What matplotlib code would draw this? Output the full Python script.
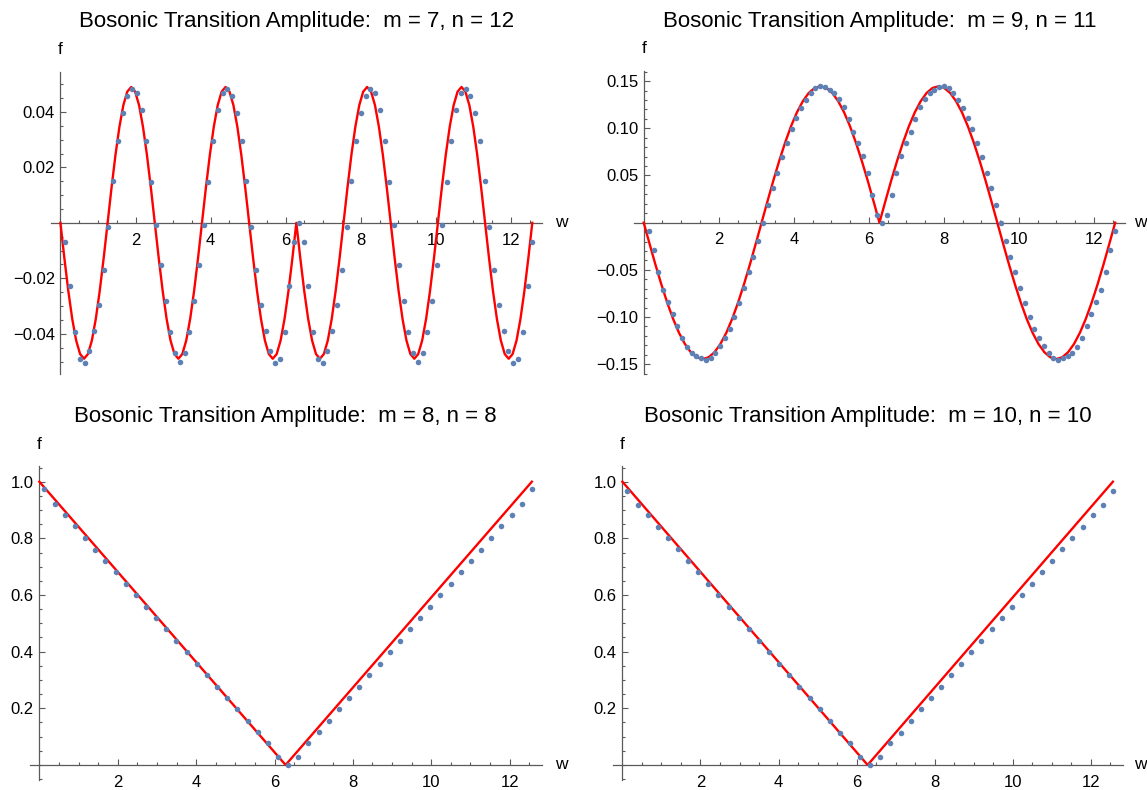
import matplotlib.pyplot as plt
import numpy as np
from matplotlib.ticker import FixedLocator, FormatStrFormatter, FuncFormatter

plt.rcParams['font.family'] = ['Liberation Sans', 'DejaVu Sans']

titles = ['Bosonic Transition Amplitude:  m = 7, n = 12',
          'Bosonic Transition Amplitude:  m = 9, n = 11',
          'Bosonic Transition Amplitude:  m = 8, n = 8',
          'Bosonic Transition Amplitude:  m = 10, n = 10']

# sample positions of the dots
dots_w_top = np.linspace(0.135, 12.566, 99)
dots_w_bottom = np.linspace(0.13, 12.566, 49)

# m = 7, n = 12
dots_f_7_12 = [
    -0.0068, -0.0228, -0.0393, -0.0492, -0.0505, -0.0461, -0.0389, -0.0296, -0.0171, -0.0014,
    0.0150, 0.0295, 0.0397, 0.0457, 0.0484, 0.0469, 0.0406, 0.0294, 0.0147, -0.0007,
    -0.0153, -0.0283, -0.0395, -0.0471, -0.0500, -0.0471, -0.0395, -0.0283, -0.0153, -0.0007,
    0.0147, 0.0294, 0.0406, 0.0469, 0.0484, 0.0457, 0.0397, 0.0295, 0.0150, -0.0014,
    -0.0171, -0.0296, -0.0389, -0.0461, -0.0505, -0.0492, -0.0393, -0.0228, -0.0068, 0.0000,
    -0.0068, -0.0228, -0.0393, -0.0492, -0.0505, -0.0461, -0.0389, -0.0296, -0.0171, -0.0014,
    0.0150, 0.0295, 0.0397, 0.0457, 0.0484, 0.0469, 0.0406, 0.0294, 0.0147, -0.0007,
    -0.0153, -0.0283, -0.0395, -0.0471, -0.0500, -0.0471, -0.0395, -0.0283, -0.0153, -0.0007,
    0.0147, 0.0294, 0.0406, 0.0469, 0.0484, 0.0457, 0.0397, 0.0295, 0.0150, -0.0014,
    -0.0171, -0.0296, -0.0389, -0.0461, -0.0505, -0.0492, -0.0393, -0.0228, -0.0068]

# m = 9, n = 11
dots_f_9_11 = [
    -0.0084, -0.0291, -0.0528, -0.0712, -0.0846, -0.0966, -0.1093, -0.1224, -0.1319, -0.1376,
    -0.1408, -0.1436, -0.1453, -0.1429, -0.1379, -0.1302, -0.1220, -0.1122, -0.1001, -0.0853,
    -0.0691, -0.0528, -0.0366, -0.0190, 0.0000, 0.0185, 0.0365, 0.0528, 0.0694, 0.0842,
    0.0997, 0.1113, 0.1213, 0.1301, 0.1375, 0.1428, 0.1449, 0.1435, 0.1410, 0.1372,
    0.1315, 0.1223, 0.1100, 0.0965, 0.0842, 0.0711, 0.0528, 0.0294, 0.0086, 0.0000,
    0.0086, 0.0294, 0.0528, 0.0711, 0.0842, 0.0965, 0.1100, 0.1223, 0.1315, 0.1372,
    0.1410, 0.1435, 0.1449, 0.1428, 0.1375, 0.1301, 0.1213, 0.1113, 0.0997, 0.0842,
    0.0694, 0.0528, 0.0365, 0.0185, 0.0000, -0.0190, -0.0366, -0.0528, -0.0691, -0.0853,
    -0.1001, -0.1122, -0.1220, -0.1302, -0.1379, -0.1429, -0.1453, -0.1436, -0.1408, -0.1376,
    -0.1319, -0.1224, -0.1093, -0.0966, -0.0846, -0.0712, -0.0528, -0.0291, -0.0084]

# m = 8, n = 8
dots_f_8_8 = [
    0.974, 0.920, 0.881, 0.845, 0.800, 0.760, 0.721, 0.680, 0.639, 0.600,
    0.559, 0.518, 0.479, 0.439, 0.398, 0.358, 0.319, 0.275, 0.238, 0.198,
    0.154, 0.116, 0.076, 0.028, 0.000, 0.028, 0.076, 0.116, 0.154, 0.198,
    0.238, 0.275, 0.319, 0.358, 0.398, 0.439, 0.479, 0.518, 0.559, 0.600,
    0.639, 0.680, 0.721, 0.760, 0.800, 0.845, 0.881, 0.920, 0.974]

# m = 10, n = 10
dots_f_10_10 = [
    0.968, 0.919, 0.882, 0.841, 0.800, 0.761, 0.719, 0.680, 0.638, 0.600,
    0.559, 0.518, 0.479, 0.438, 0.398, 0.358, 0.316, 0.276, 0.236, 0.196,
    0.155, 0.113, 0.076, 0.029, 0.000, 0.029, 0.076, 0.113, 0.155, 0.196,
    0.236, 0.276, 0.316, 0.358, 0.398, 0.438, 0.479, 0.518, 0.559, 0.600,
    0.638, 0.680, 0.719, 0.761, 0.800, 0.841, 0.882, 0.919, 0.968]

# red curves
curve_w_7_12 = np.linspace(0, 12.566, 121)
curve_f_7_12 = [
    0.0,
    -0.0127, -0.0245, -0.0346, -0.0424, -0.0473, -0.0490, -0.0473, -0.0424, -0.0346, -0.0245, -0.0127, 0.0,
    0.0127, 0.0245, 0.0346, 0.0424, 0.0473, 0.0490, 0.0473, 0.0424, 0.0346, 0.0245, 0.0127, 0.0,
    -0.0127, -0.0245, -0.0346, -0.0424, -0.0473, -0.0490, -0.0473, -0.0424, -0.0346, -0.0245, -0.0127, 0.0,
    0.0127, 0.0245, 0.0346, 0.0424, 0.0473, 0.0490, 0.0473, 0.0424, 0.0346, 0.0245, 0.0127, 0.0,
    -0.0127, -0.0245, -0.0346, -0.0424, -0.0473, -0.0490, -0.0473, -0.0424, -0.0346, -0.0245, -0.0127, 0.0,
    -0.0127, -0.0245, -0.0346, -0.0424, -0.0473, -0.0490, -0.0473, -0.0424, -0.0346, -0.0245, -0.0127, 0.0,
    0.0127, 0.0245, 0.0346, 0.0424, 0.0473, 0.0490, 0.0473, 0.0424, 0.0346, 0.0245, 0.0127, 0.0,
    -0.0127, -0.0245, -0.0346, -0.0424, -0.0473, -0.0490, -0.0473, -0.0424, -0.0346, -0.0245, -0.0127, 0.0,
    0.0127, 0.0245, 0.0346, 0.0424, 0.0473, 0.0490, 0.0473, 0.0424, 0.0346, 0.0245, 0.0127, 0.0,
    -0.0127, -0.0245, -0.0346, -0.0424, -0.0473, -0.0490, -0.0473, -0.0424, -0.0346, -0.0245, -0.0127, 0.0]

curve_w_9_11 = np.linspace(0, 12.566, 81)
curve_f_9_11 = [
    0.0,
    -0.0226, -0.0447, -0.0656, -0.0849, -0.1022, -0.1169, -0.1287, -0.1374, -0.1427, -0.1445,
    -0.1427, -0.1374, -0.1287, -0.1169, -0.1022, -0.0849, -0.0656, -0.0447, -0.0226, 0.0,
    0.0226, 0.0447, 0.0656, 0.0849, 0.1022, 0.1169, 0.1287, 0.1374, 0.1427, 0.1445,
    0.1427, 0.1374, 0.1287, 0.1169, 0.1022, 0.0849, 0.0656, 0.0447, 0.0226, 0.0,
    0.0226, 0.0447, 0.0656, 0.0849, 0.1022, 0.1169, 0.1287, 0.1374, 0.1427, 0.1445,
    0.1427, 0.1374, 0.1287, 0.1169, 0.1022, 0.0849, 0.0656, 0.0447, 0.0226, 0.0,
    -0.0226, -0.0447, -0.0656, -0.0849, -0.1022, -0.1169, -0.1287, -0.1374, -0.1427, -0.1445,
    -0.1427, -0.1374, -0.1287, -0.1169, -0.1022, -0.0849, -0.0656, -0.0447, -0.0226, 0.0]

curve_w_diag = [0.0, 6.283, 12.566]
curve_f_diag = [1.0, 0.0, 1.0]

W, H = 1147, 790
AXIS_GRAY = '#5a5a5a'
DOT_BLUE = '#5e81b5'


def tick_fmt(decimals):
    # real minus sign, like the reference
    return FuncFormatter(lambda v, pos: f'{v:.{decimals}f}'.replace('-', '\u2212'))


def add_panel(fig, box, title, dots_w, dots_f, curve_w, curve_f,
              ylim, yticks, yminor, ydec, w_offset=14):
    left, right, top, bottom = box
    ax = fig.add_axes([left / W, 1 - bottom / H, (right - left) / W, (bottom - top) / H])
    ax.patch.set_alpha(0)
    ax.plot(curve_w, curve_f, color='red', lw=1.7, zorder=3, solid_joinstyle='round')
    ax.plot(dots_w, dots_f, 'o', color=DOT_BLUE, ms=4.0, mew=0, zorder=4)
    ax.set_xlim(-0.251, 12.817)
    ax.set_ylim(*ylim)
    ax.spines['left'].set_position(('data', 0))
    ax.spines['bottom'].set_position(('data', 0))
    ax.spines['top'].set_visible(False)
    ax.spines['right'].set_visible(False)
    for s in ('left', 'bottom'):
        ax.spines[s].set_color(AXIS_GRAY)
        ax.spines[s].set_linewidth(0.9)
    ax.xaxis.set_major_locator(FixedLocator([2, 4, 6, 8, 10, 12]))
    ax.xaxis.set_minor_locator(FixedLocator(np.arange(0.5, 12.6, 0.5)))
    ax.xaxis.set_major_formatter(FormatStrFormatter('%d'))
    ax.yaxis.set_major_locator(FixedLocator(yticks))
    ax.yaxis.set_minor_locator(FixedLocator(yminor))
    ax.yaxis.set_major_formatter(tick_fmt(ydec))
    ax.tick_params(which='both', direction='in', color=AXIS_GRAY, width=0.8,
                   labelsize=12, labelcolor='black')
    ax.tick_params(which='major', length=4)
    ax.tick_params(which='minor', length=2.4)
    ax.tick_params(axis='x', which='major', pad=7)
    ax.tick_params(axis='y', which='major', pad=4)
    ax.annotate(title, xy=(0.5, 1), xycoords='axes fraction', xytext=(0, 36),
                textcoords='offset points', ha='center', va='center', fontsize=16)
    ax.annotate('f', xy=(0, 1), xycoords=('data', 'axes fraction'), xytext=(0, 16),
                textcoords='offset points', ha='center', va='center', fontsize=12.5)
    ax.annotate('w', xy=(1, 0), xycoords=('axes fraction', 'data'), xytext=(w_offset, 0),
                textcoords='offset points', ha='center', va='center', fontsize=12.5,
                annotation_clip=False)
    return ax


fig = plt.figure(figsize=(W / 100, H / 100), dpi=100)

add_panel(fig, (51, 541.7, 71.7, 374), titles[0], dots_w_top, dots_f_7_12,
          curve_w_7_12, curve_f_7_12, (-0.0545, 0.0545),
          [-0.04, -0.02, 0.02, 0.04], np.arange(-0.05, 0.0501, 0.005), 2)
add_panel(fig, (634.3, 1124.6, 71, 374.3), titles[1], dots_w_top, dots_f_9_11,
          curve_w_9_11, curve_f_9_11, (-0.1607, 0.1607),
          [-0.15, -0.10, -0.05, 0.05, 0.10, 0.15], np.arange(-0.16, 0.1601, 0.01), 2,
          w_offset=11)
add_panel(fig, (29.5, 541.7, 466.4, 779.7), titles[2], dots_w_bottom, dots_f_8_8,
          curve_w_diag, curve_f_diag, (-0.052, 1.054),
          [0.2, 0.4, 0.6, 0.8, 1.0], np.arange(-0.05, 1.051, 0.05), 1)
add_panel(fig, (612.6, 1122.7, 466.4, 779.7), titles[3], dots_w_bottom, dots_f_10_10,
          curve_w_diag, curve_f_diag, (-0.052, 1.054),
          [0.2, 0.4, 0.6, 0.8, 1.0], np.arange(-0.05, 1.051, 0.05), 1,
          w_offset=12.5)

fig.savefig('out.png', dpi=100)
